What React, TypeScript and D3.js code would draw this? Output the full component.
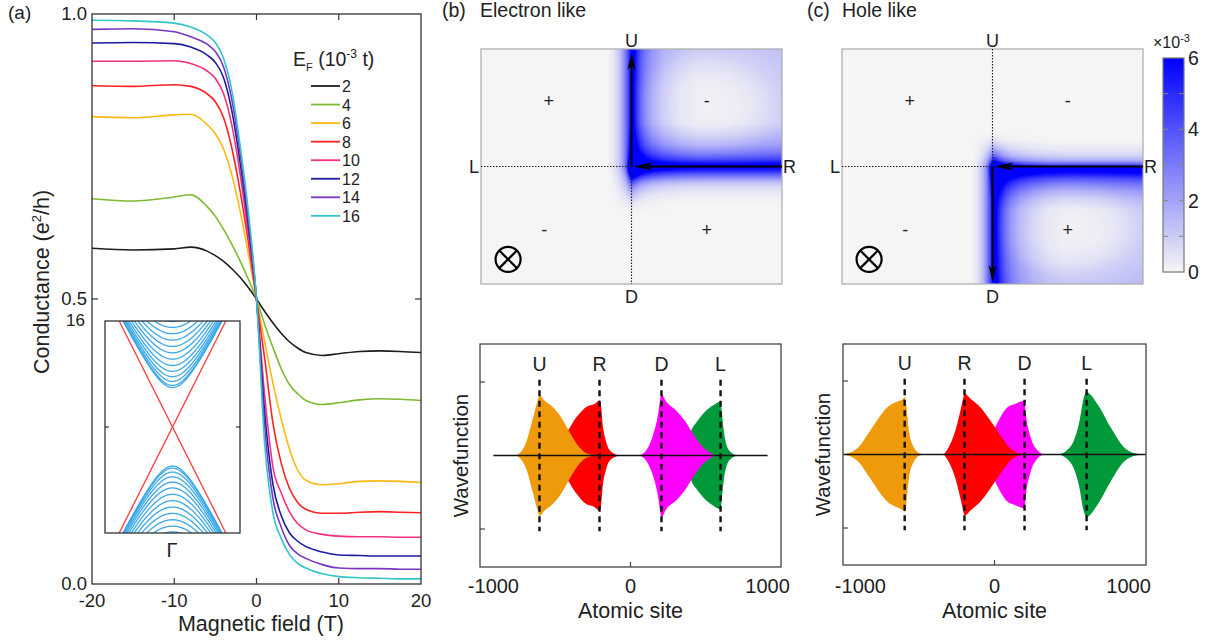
import React, { useEffect, useState } from 'react';
import * as d3 from 'd3';

const FONT = "'Liberation Sans', Arial, Helvetica, sans-serif";

// ---------- Panel (a): conductance vs magnetic field ----------
const FIELD = [-20, -15, -10, -8, -6, -5, -4, -3, -2, -1, 0, 1, 2, 3, 4, 5, 6, 8, 10, 12.5, 15, 17.5, 20];
const EF_LEVELS = ['2', '4', '6', '8', '10', '12', '14', '16'];
const EF_COLORS = ['#1e1e1e', '#7cbb2f', '#ffb914', '#ff2222', '#f5317f', '#1c1ca0', '#7a35c2', '#31c6cc'];
const G_EF2 = [0.589, 0.586, 0.588, 0.591, 0.584, 0.576, 0.566, 0.553, 0.538, 0.52, 0.5, 0.478, 0.458, 0.44, 0.425, 0.414, 0.406, 0.401, 0.404, 0.408, 0.409, 0.408, 0.406];
const G_EF4 = [0.676, 0.672, 0.679, 0.683, 0.662, 0.645, 0.622, 0.596, 0.567, 0.535, 0.5, 0.455, 0.415, 0.378, 0.35, 0.334, 0.322, 0.315, 0.318, 0.323, 0.325, 0.324, 0.322];
const G_EF6 = [0.82, 0.818, 0.823, 0.824, 0.806, 0.79, 0.763, 0.718, 0.655, 0.58, 0.5, 0.425, 0.352, 0.29, 0.237, 0.2, 0.182, 0.174, 0.176, 0.18, 0.181, 0.18, 0.178];
const G_EF8 = [0.874, 0.873, 0.876, 0.873, 0.86, 0.846, 0.818, 0.765, 0.69, 0.6, 0.5, 0.395, 0.282, 0.212, 0.168, 0.143, 0.131, 0.124, 0.124, 0.126, 0.127, 0.126, 0.125];
const G_EF10 = [0.917, 0.917, 0.918, 0.913, 0.9, 0.887, 0.86, 0.805, 0.72, 0.615, 0.5, 0.33, 0.205, 0.16, 0.127, 0.106, 0.095, 0.087, 0.084, 0.083, 0.083, 0.082, 0.082];
const G_EF12 = [0.949, 0.95, 0.948, 0.942, 0.928, 0.915, 0.888, 0.83, 0.74, 0.63, 0.5, 0.3, 0.175, 0.12, 0.09, 0.075, 0.066, 0.056, 0.051, 0.05, 0.049, 0.049, 0.049];
const G_EF14 = [0.973, 0.974, 0.969, 0.96, 0.947, 0.934, 0.907, 0.85, 0.757, 0.642, 0.5, 0.275, 0.15, 0.1, 0.068, 0.053, 0.045, 0.034, 0.028, 0.027, 0.027, 0.026, 0.026];
const G_EF16 = [0.989, 0.988, 0.984, 0.977, 0.963, 0.95, 0.922, 0.866, 0.77, 0.655, 0.5, 0.245, 0.125, 0.08, 0.052, 0.036, 0.028, 0.018, 0.013, 0.011, 0.01, 0.009, 0.009];
const G_SERIES = [G_EF2, G_EF4, G_EF6, G_EF8, G_EF10, G_EF12, G_EF14, G_EF16];
const A_XTICKS = [-20, -10, 0, 10, 20];
const A_YTICKS = [0, 0.5, 1];

// inset band structure
const BAND_EDGES_UP = [0.372, 0.392, 0.43, 0.475, 0.525, 0.58, 0.64, 0.7, 0.76, 0.82, 0.88, 0.94, 0.995];
const BAND_EDGES_DN = [-0.368, -0.388, -0.425, -0.47, -0.52, -0.575, -0.635, -0.695, -0.755, -0.815, -0.875, -0.935, -0.99];
const DIRAC_SLOPE = 0.79; // k at which edge state reaches E = 1
const K_GRID = d3.range(-1, 1.0001, 0.01);

// ---------- Panels (b),(c): heat maps ----------
const CB_TICKS = [0, 2, 4, 6];
const CB_MINOR = [1, 2, 3, 4, 5];
// profiles: [offset px, intensity (x1e-3)]
const B_U_PROFILE = [[-24, 0], [-18, 0.35], [-13, 1.0], [-9, 2.0], [-5, 3.4], [-2, 5], [0, 6], [2, 5.3], [5, 4.0], [9, 2.8], [14, 1.9], [21, 1.2], [32, 0.6], [48, 0.2], [68, 0]];
const B_R_PROFILE = [[-44, 0], [-33, 0.45], [-23, 1.0], [-15, 1.9], [-9, 3.0], [-4, 4.6], [0, 6], [3, 5.2], [6, 4.0], [10, 2.7], [14, 1.5], [19, 0.7], [27, 0.2], [36, 0]];
const B_TINT = [[0, 0.1], [0.5, 0.2], [0.8, 0.5], [1.1, 0.95], [1.5, 1.25], [2.2, 1.35]];
const C_D_PROFILE = [[-22, 0], [-16, 0.45], [-11, 1.3], [-7, 2.6], [-3, 4.4], [0, 6], [3, 5], [7, 3.6], [12, 2.5], [18, 1.7], [27, 1.0], [40, 0.5], [55, 0.15], [70, 0]];
const C_R_PROFILE = [[-28, 0], [-19, 0.3], [-12, 0.8], [-7, 1.8], [-3, 3.8], [0, 6], [3, 5.3], [7, 4.2], [11, 3.0], [16, 2.0], [23, 1.1], [31, 0.45], [42, 0]];
const C_TINT = [[0, 0.1], [0.5, 0.2], [0.8, 0.5], [1.1, 1.0], [1.5, 1.35], [2.2, 1.55]];

const SPEC_B = { cx: 150, cy: 118, vProf: B_U_PROFILE, vDir: 'up', vFade: 50, hProf: B_R_PROFILE, hFade: 8, tintProf: B_TINT, tx: 224, ty: 56, rx: 70, ry: 50, quad: 'ur' };
const SPEC_C = { cx: 151, cy: 118, vProf: C_D_PROFILE, vDir: 'down', vFade: 38, hProf: C_R_PROFILE, hFade: 8, tintProf: C_TINT, tx: 225, ty: 179, rx: 70, ry: 45, quad: 'lr' };

// ---------- wavefunction panels ----------
const WF_LABELS = ['U', 'R', 'D', 'L'];
const WF_COLORS: Record<string, string> = { U: '#ee9a0a', R: '#ff0000', D: '#ff00ff', L: '#00993a' };
const WF_B_LINES = [-664, -226, 226, 657];
const WF_B_U_SITE = [-834, -810, -761, -713, -677, -664, -628, -567, -506, -445, -385, -323, -287, -250, -200];
const WF_B_U_AMP = [0, 0.03, 0.18, 0.5, 0.75, 0.82, 0.75, 0.66, 0.52, 0.32, 0.14, 0.03, 0.01, 0.005, 0];
const WF_B_R_SITE = [-664, -591, -542, -518, -494, -445, -421, -372, -323, -263, -226, -219, -202, -177, -141, -80];
const WF_B_R_AMP = [0, 0.02, 0.08, 0.15, 0.25, 0.37, 0.45, 0.57, 0.66, 0.7, 0.75, 0.73, 0.41, 0.18, 0.05, 0];
const WF_B_D_SITE = [66, 115, 163, 199, 217, 224, 261, 334, 394, 455, 516, 577, 626];
const WF_B_D_AMP = [0, 0.07, 0.27, 0.54, 0.77, 0.84, 0.73, 0.61, 0.48, 0.3, 0.14, 0.04, 0];
const WF_B_L_SITE = [330, 358, 394, 418, 443, 480, 540, 601, 657, 664, 679, 698, 735, 781];
const WF_B_L_AMP = [0, 0.01, 0.04, 0.18, 0.34, 0.45, 0.59, 0.68, 0.73, 0.64, 0.36, 0.16, 0.04, 0];

const WF_C_LINES = [-670, -224, 224, 687];
const WF_C_U_SITE = [-1127, -1025, -925, -851, -801, -739, -675, -670, -657, -639, -602, -552, -527];
const WF_C_U_AMP = [0, 0.08, 0.33, 0.53, 0.64, 0.71, 0.77, 0.79, 0.66, 0.33, 0.1, 0.01, 0];
const WF_C_R_SITE = [-378, -328, -291, -254, -229, -224, -179, -104, -30, 45, 119, 194, 244];
const WF_C_R_AMP = [0, 0.15, 0.33, 0.6, 0.8, 0.83, 0.76, 0.64, 0.46, 0.26, 0.08, 0.01, 0];
const WF_C_D_SITE = [-104, -50, -5, 45, 95, 157, 224, 234, 269, 318, 368];
const WF_C_D_AMP = [0, 0.15, 0.33, 0.51, 0.64, 0.69, 0.73, 0.55, 0.24, 0.06, 0];
const WF_C_L_SITE = [480, 542, 592, 630, 667, 686, 766, 866, 965, 1065, 1127];
const WF_C_L_AMP = [0, 0.06, 0.19, 0.42, 0.78, 0.85, 0.69, 0.37, 0.1, 0.01, 0];
const WF_XTICKS = [-1000, 0, 1000];
const WF_YTICKS = [-1, 1];

const heatColor = d3.scaleLinear<string>().domain([0, 6]).range(['#f5f5f5', '#0000ff']).interpolate(d3.interpolateRgb).clamp(true);

function profScale(p: number[][]) {
  return d3.scaleLinear().domain(p.map((q) => q[0])).range(p.map((q) => q[1])).clamp(true);
}

function renderHeat(spec: any): string {
  const W = 301, H = 235;
  const cv = document.createElement('canvas');
  cv.width = W; cv.height = H;
  const ctx = cv.getContext('2d');
  if (!ctx) return '';
  const img = ctx.createImageData(W, H);
  const pv = profScale(spec.vProf), ph = profScale(spec.hProf), pt = profScale(spec.tintProf);
  const fade = (d: number, L: number) => Math.pow(Math.max(0, 1 - d / L), 2);
  const lut = d3.range(256).map((i) => d3.rgb(heatColor((i / 255) * 6)));
  for (let py = 0; py < H; py++) {
    for (let px = 0; px < W; px++) {
      const dx = px - spec.cx, dy = py - spec.cy;
      let along = 1;
      if (spec.vDir === 'up') along = dy <= 0 ? 1 : fade(dy, spec.vFade);
      else along = dy >= 0 ? 1 : fade(-dy, spec.vFade);
      const v = pv(dx) * along;
      const h = ph(dy) * (dx >= 0 ? 1 : fade(-dx, spec.hFade));
      let t = 0;
      const inQ = spec.quad === 'ur' ? dx > 0 && dy < 0 : dx > 0 && dy > 0;
      if (inQ) {
        const dd = Math.sqrt(((px - spec.tx) / spec.rx) ** 2 + ((py - spec.ty) / spec.ry) ** 2);
        t = pt(dd);
      }
      const I = Math.min(6, v + h + t);
      const c = lut[Math.round((I / 6) * 255)];
      const k = (py * W + px) * 4;
      img.data[k] = c.r; img.data[k + 1] = c.g; img.data[k + 2] = c.b; img.data[k + 3] = 255;
    }
  }
  ctx.putImageData(img, 0, 0);
  return cv.toDataURL();
}

function arrowHead(tx: number, ty: number, dx: number, dy: number, len: number, hw: number) {
  const bx = tx - dx * len, by = ty - dy * len;
  const nx = tx - dx * len * 0.72, ny = ty - dy * len * 0.72;
  const px = -dy, py = dx;
  return `M${tx},${ty}L${bx + px * hw},${by + py * hw}L${nx},${ny}L${bx - px * hw},${by - py * hw}Z`;
}

function PanelA() {
  const x = d3.scaleLinear().domain([-20, 20]).range([92, 421]);
  const y = d3.scaleLinear().domain([0, 1]).range([584, 14]);
  const line = d3.line<number>().x((_, i) => x(FIELD[i])).y((d) => y(d)).curve(d3.curveMonotoneX);
  const ix = d3.scaleLinear().domain([-1, 1]).range([105, 240]);
  const iy = d3.scaleLinear().domain([-1, 1]).range([533, 321]);
  const band = (edge: number) => d3.line<number>().x((k) => ix(k)).y((k) => iy(Math.sign(edge) * Math.sqrt(edge * edge + (k / DIRAC_SLOPE) ** 2)))(K_GRID) || '';
  return (
    <g fontFamily={FONT} fill="#222">
      <text x={8} y={19} fontSize={19}>(a)</text>
      <defs>
        <clipPath id="clipA"><rect x={92} y={14} width={329} height={570} /></clipPath>
        <clipPath id="clipInset"><rect x={105} y={321} width={135} height={212} /></clipPath>
      </defs>
      <g clipPath="url(#clipA)">
        {G_SERIES.map((s, i) => (
          <path key={i} d={line(s) || ''} fill="none" stroke={EF_COLORS[i]} strokeWidth={1.6} />
        ))}
      </g>
      <rect x={92} y={14} width={329} height={570} fill="none" stroke="#333" strokeWidth={1.3} />
      {[-10, 0, 10].map((t) => (
        <g key={t}>
          <line x1={x(t)} x2={x(t)} y1={584} y2={578} stroke="#333" strokeWidth={1.2} />
          <line x1={x(t)} x2={x(t)} y1={14} y2={20} stroke="#333" strokeWidth={1.2} />
        </g>
      ))}
      <line x1={92} x2={98} y1={y(0.5)} y2={y(0.5)} stroke="#333" strokeWidth={1.2} />
      <line x1={421} x2={415} y1={y(0.5)} y2={y(0.5)} stroke="#333" strokeWidth={1.2} />
      {A_XTICKS.map((t) => (
        <text key={t} x={x(t)} y={607} fontSize={18.5} textAnchor="middle">{t}</text>
      ))}
      {A_YTICKS.map((t) => (
        <text key={t} x={87} y={y(t) + 6} fontSize={18.5} textAnchor="end">{t.toFixed(1)}</text>
      ))}
      <text x={85} y={326} fontSize={17} textAnchor="end">16</text>
      <text x={261} y={631} fontSize={21.5} textAnchor="middle">Magnetic field (T)</text>
      <text transform="translate(49,282) rotate(-90)" fontSize={21.5} textAnchor="middle">
        Conductance (e<tspan dy={-8} fontSize={13}>2</tspan><tspan dy={8}>/h)</tspan>
      </text>
      {/* legend */}
      <text x={293} y={66} fontSize={19.5}>
        E<tspan dy={5} fontSize={11}>F</tspan><tspan dy={-5}> (10</tspan><tspan dy={-8} fontSize={12}>-3</tspan><tspan dy={8}> t)</tspan>
      </text>
      {EF_LEVELS.map((lv, i) => (
        <g key={lv}>
          <line x1={311} x2={340} y1={86 + i * 18.55} y2={86 + i * 18.55} stroke={EF_COLORS[i]} strokeWidth={1.8} />
          <text x={342} y={92 + i * 18.55} fontSize={16}>{lv}</text>
        </g>
      ))}
      {/* inset */}
      <rect x={105} y={321} width={135} height={212} fill="#fff" />
      <g clipPath="url(#clipInset)">
        {BAND_EDGES_UP.concat(BAND_EDGES_DN).map((e, i) => (
          <path key={i} d={band(e)} fill="none" stroke="#3aa8e8" strokeWidth={1.3} />
        ))}
        <line x1={ix(-DIRAC_SLOPE)} y1={iy(1)} x2={ix(DIRAC_SLOPE)} y2={iy(-1)} stroke="#ff3b3b" strokeWidth={1.3} />
        <line x1={ix(DIRAC_SLOPE)} y1={iy(1)} x2={ix(-DIRAC_SLOPE)} y2={iy(-1)} stroke="#ff3b3b" strokeWidth={1.3} />
      </g>
      <rect x={105} y={321} width={135} height={212} fill="none" stroke="#333" strokeWidth={1.3} />
      <line x1={105} x2={109} y1={iy(0)} y2={iy(0)} stroke="#333" strokeWidth={1.2} />
      <line x1={240} x2={236} y1={iy(0)} y2={iy(0)} stroke="#333" strokeWidth={1.2} />
      <text x={172} y={557} fontSize={20} textAnchor="middle">Γ</text>
    </g>
  );
}

function HeatPanel(props: { x0: number; img: string; hole: boolean; label: string; title: string; titleX: number; labelX: number }) {
  const { x0, img, hole } = props;
  const W = 301, H = 235, y0 = 49;
  const hx = d3.scaleLinear().domain([-1, 1]).range([x0, x0 + W]);
  const hy = d3.scaleLinear().domain([-1, 1]).range([y0 + H, y0]);
  const cx = hx(0), cy = hy(0);
  const left = hx(-1), right = hx(1), top = hy(1), bottom = hy(-1);
  return (
    <g fontFamily={FONT} fill="#222">
      <text x={props.labelX} y={17} fontSize={19.5}>{props.label}</text>
      <text x={props.titleX} y={17} fontSize={19.5}>{props.title}</text>
      {img && <image href={img} x={left} y={top} width={W} height={H} preserveAspectRatio="none" />}
      <rect x={left} y={top} width={W} height={H} fill="none" stroke="#aaa" strokeWidth={1.2} />
      <line x1={left} x2={cx} y1={cy} y2={cy} stroke="#222" strokeWidth={1.1} strokeDasharray="1.5 1.5" />
      {hole ? (
        <line x1={cx} x2={cx} y1={top} y2={cy} stroke="#222" strokeWidth={1.1} strokeDasharray="1.5 1.5" />
      ) : (
        <line x1={cx} x2={cx} y1={cy} y2={bottom} stroke="#222" strokeWidth={1.1} strokeDasharray="1.5 1.5" />
      )}
      <line x1={right} x2={cx + 10} y1={cy} y2={cy} stroke="#000" strokeWidth={2} />
      <path d={arrowHead(cx + 2, cy, -1, 0, 19, 4)} fill="#000" />
      {hole ? (
        <g>
          <line x1={cx} x2={cx} y1={cy} y2={bottom - 10} stroke="#000" strokeWidth={2} />
          <path d={arrowHead(cx, bottom - 2, 0, 1, 17, 4)} fill="#000" />
        </g>
      ) : (
        <g>
          <line x1={cx} x2={cx} y1={cy} y2={top + 12} stroke="#000" strokeWidth={2} />
          <path d={arrowHead(cx, top + 4, 0, -1, 17, 4)} fill="#000" />
        </g>
      )}
      <text x={cx} y={top - 2.5} fontSize={18} textAnchor="middle">U</text>
      <text x={cx} y={bottom + 18.5} fontSize={18} textAnchor="middle">D</text>
      <text x={left - 2} y={cy + 6.5} fontSize={18} textAnchor="end">L</text>
      <text x={right + 1} y={cy + 6.5} fontSize={18}>R</text>
      <text x={hx(-0.55)} y={hy(0.56) + 6} fontSize={18} textAnchor="middle">+</text>
      <text x={hx(0.5)} y={hy(0.56) + 6} fontSize={18} textAnchor="middle">-</text>
      <text x={hx(-0.58)} y={hy(-0.54) + 6} fontSize={18} textAnchor="middle">-</text>
      <text x={hx(0.5)} y={hy(-0.54) + 6} fontSize={18} textAnchor="middle">+</text>
      <g transform={`translate(${hx(-0.82)},${hy(-0.79)})`}>
        <circle r={12.5} fill="none" stroke="#000" strokeWidth={2.2} />
        <line x1={-8.8} y1={-8.8} x2={8.8} y2={8.8} stroke="#000" strokeWidth={2.2} />
        <line x1={-8.8} y1={8.8} x2={8.8} y2={-8.8} stroke="#000" strokeWidth={2.2} />
      </g>
    </g>
  );
}

function ColorBar() {
  const cbY = d3.scaleLinear().domain([0, 6]).range([272, 58]);
  const stops = d3.range(0, 6.01, 0.5);
  return (
    <g fontFamily={FONT} fill="#222">
      <defs>
        <linearGradient id="cbGrad" x1="0" y1="1" x2="0" y2="0">
          {stops.map((s) => (
            <stop key={s} offset={s / 6} stopColor={heatColor(s)} />
          ))}
        </linearGradient>
      </defs>
      <rect x={1163} y={cbY(6)} width={21} height={cbY(0) - cbY(6)} fill="url(#cbGrad)" stroke="#777" strokeWidth={1.2} />
      {CB_MINOR.map((t) => (
        <g key={t}>
          <line x1={1163} x2={1168} y1={cbY(t)} y2={cbY(t)} stroke="#888" strokeWidth={1} />
          <line x1={1179} x2={1184} y1={cbY(t)} y2={cbY(t)} stroke="#888" strokeWidth={1} />
        </g>
      ))}
      {CB_TICKS.map((t) => (
        <text key={t} x={1188} y={cbY(t) + 7} fontSize={19.5}>{t}</text>
      ))}
      <text x={1153} y={48} fontSize={16}>×10<tspan dy={-6} fontSize={11}>-3</tspan></text>
    </g>
  );
}

type WfSeries = { label: string; site: number[]; amp: number[] };

function WavePanel(props: { x0: number; x1: number; y0: number; y1: number; domain: number; ydom: number; series: WfSeries[]; lines: number[]; base: [number, number]; ylabelX: number }) {
  const { x0, x1, y0, y1 } = props;
  const x = d3.scaleLinear().domain([-props.domain, props.domain]).range([x0, x1]);
  const y = d3.scaleLinear().domain([-props.ydom, props.ydom]).range([y1, y0]);
  return (
    <g fontFamily={FONT} fill="#222">
      {props.series.map((s) => {
        const area = d3.area<number>().x((_, i) => x(s.site[i])).y0((d) => y(-d)).y1((d) => y(d)).curve(d3.curveMonotoneX);
        return <path key={s.label} d={area(s.amp) || ''} fill={WF_COLORS[s.label]} />;
      })}
      <line x1={x(props.base[0])} x2={x(props.base[1])} y1={y(0)} y2={y(0)} stroke="#111" strokeWidth={1.5} />
      {props.lines.map((l, i) => (
        <g key={i}>
          <line x1={x(l)} x2={x(l)} y1={y(1.03)} y2={y(-1.03)} stroke="#111" strokeWidth={2.4} strokeDasharray="6 4.5" />
          <text x={x(l)} y={y(1.25) + 7} fontSize={19.5} textAnchor="middle">{WF_LABELS[i]}</text>
        </g>
      ))}
      <rect x={x0} y={y0} width={x1 - x0} height={y1 - y0} fill="none" stroke="#444" strokeWidth={1.3} />
      {WF_YTICKS.map((t) => (
        <line key={t} x1={x0} x2={x0 + 5} y1={y(t)} y2={y(t)} stroke="#444" strokeWidth={1.2} />
      ))}
      <line x1={x(0)} x2={x(0)} y1={y1} y2={y1 - 5} stroke="#444" strokeWidth={1.2} />
      {WF_XTICKS.map((t) => (
        <text key={t} x={x(t)} y={592.5} fontSize={20} textAnchor="middle">{t}</text>
      ))}
      <text x={x(0)} y={618} fontSize={21.5} textAnchor="middle">Atomic site</text>
      <text transform={`translate(${props.ylabelX},${(y0 + y1) / 2}) rotate(-90)`} fontSize={20.5} textAnchor="middle">Wavefunction</text>
    </g>
  );
}

export default function App() {
  const [imgB, setImgB] = useState('');
  const [imgC, setImgC] = useState('');
  useEffect(() => {
    document.body.style.margin = '0';
    setImgB(renderHeat(SPEC_B));
    setImgC(renderHeat(SPEC_C));
  }, []);

  const seriesB: WfSeries[] = [
    { label: 'R', site: WF_B_R_SITE, amp: WF_B_R_AMP },
    { label: 'U', site: WF_B_U_SITE, amp: WF_B_U_AMP },
    { label: 'L', site: WF_B_L_SITE, amp: WF_B_L_AMP },
    { label: 'D', site: WF_B_D_SITE, amp: WF_B_D_AMP },
  ];
  const seriesC: WfSeries[] = [
    { label: 'U', site: WF_C_U_SITE, amp: WF_C_U_AMP },
    { label: 'D', site: WF_C_D_SITE, amp: WF_C_D_AMP },
    { label: 'R', site: WF_C_R_SITE, amp: WF_C_R_AMP },
    { label: 'L', site: WF_C_L_SITE, amp: WF_C_L_AMP },
  ];

  return (
    <svg width={1210} height={643} style={{ position: 'absolute', left: 0, top: 0, display: 'block', background: '#fff' }}>
      <rect x={0} y={0} width={1210} height={643} fill="#fff" />
      <PanelA />
      <HeatPanel x0={481} img={imgB} hole={false} label="(b)" title="Electron like" labelX={442} titleX={480} />
      <HeatPanel x0={842} img={imgC} hole={true} label="(c)" title="Hole like" labelX={807} titleX={842} />
      <ColorBar />
      <WavePanel x0={480} x1={781} y0={344} y1={567} domain={1098} ydom={1.517} series={seriesB} lines={WF_B_LINES} base={[-1000, 1000]} ylabelX={468} />
      <WavePanel x0={843} x1={1146} y0={344} y1={565} domain={1130} ydom={1.503} series={seriesC} lines={WF_C_LINES} base={[-1127, 1127]} ylabelX={830} />
    </svg>
  );
}
